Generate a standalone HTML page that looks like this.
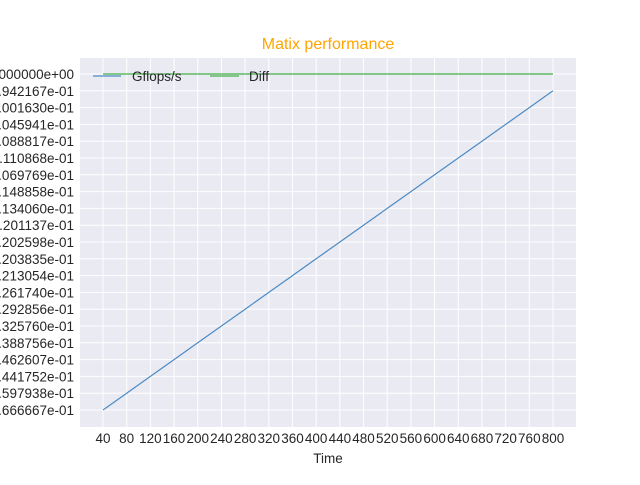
<!DOCTYPE html>
<html><head><meta charset="utf-8"><style>
body{margin:0;background:#fff;width:640px;height:480px;overflow:hidden}
svg{font-family:"Liberation Sans",sans-serif}
</style></head><body>
<svg id="c" width="640" height="480"></svg>
<script>
const xCats=[40,80,120,160,200,240,280,320,360,400,440,480,520,560,600,640,680,720,760,800];
const yLabels=["1.666667e-01","1.597938e-01","1.441752e-01","1.462607e-01","1.388756e-01","1.325760e-01","1.292856e-01","1.261740e-01","1.213054e-01","1.203835e-01","1.202598e-01","1.201137e-01","1.134060e-01","1.148858e-01","1.069769e-01","1.110868e-01","1.088817e-01","1.045941e-01","1.001630e-01","9.942167e-01","0.000000e+00"];
const gflops=["1.666667e-01","1.597938e-01","1.441752e-01","1.462607e-01","1.388756e-01","1.325760e-01","1.292856e-01","1.261740e-01","1.213054e-01","1.203835e-01","1.202598e-01","1.201137e-01","1.134060e-01","1.148858e-01","1.069769e-01","1.110868e-01","1.088817e-01","1.045941e-01","1.001630e-01","9.942167e-01"];
const diff=xCats.map(()=> "0.000000e+00");
const svg=document.getElementById('c');const NS='http://www.w3.org/2000/svg';
function mk(t,a,p){const e=document.createElementNS(NS,t);for(const k in a)e.setAttribute(k,a[k]);(p||svg).appendChild(e);return e;}
const L=80,R=576,T=58,B=427;
const xs=v=>103+(v-40)*(450/760);
const ys=s=>410-yLabels.indexOf(s)*(336/20);
let bg=mk('rect',{x:L,y:T,width:R-L,height:B-T,fill:'#eaeaf2'});


xCats.forEach(v=>{const x=xs(v);mk('line',{x1:x,x2:x,y1:T,y2:B,stroke:'#fff','stroke-width':1});
let t=mk('text',{x:x,y:443,'text-anchor':'middle','font-size':13.5,fill:'#262626'});t.textContent=v;

});
yLabels.forEach(s=>{const y=ys(s);mk('line',{x1:L,x2:R,y1:y,y2:y,stroke:'#fff','stroke-width':1});
let t=mk('text',{x:74,y:y+5,'text-anchor':'end','font-size':13.5,fill:'#262626'});t.textContent=s;

});
let p1=mk('polyline',{points:gflops.map((s,i)=>xs(xCats[i])+','+ys(s)).join(' '),fill:'none',stroke:'#4c8bc5','stroke-width':1.2});


let p2=mk('polyline',{points:diff.map((s,i)=>xs(xCats[i])+','+ys(s)).join(' '),fill:'none',stroke:'#48b048','stroke-width':1.2});


let l1=mk('line',{x1:93,x2:121,y1:76,y2:76,stroke:'#4c8bc5','stroke-width':1.2});


let t1=mk('text',{x:132,y:81,'font-size':13.5,fill:'#262626'});t1.textContent='Gflops/s';


let l2=mk('line',{x1:210,x2:239,y1:76,y2:76,stroke:'#48b048','stroke-width':1.2});


let t2=mk('text',{x:249,y:81,'font-size':13.5,fill:'#262626'});t2.textContent='Diff';


let ti=mk('text',{x:328,y:49,'text-anchor':'middle','font-size':16,fill:'#ffa500'});ti.textContent='Matix performance';


let xt=mk('text',{x:328,y:463,'text-anchor':'middle','font-size':13.5,fill:'#262626'});xt.textContent='Time';


</script>
</body></html>
